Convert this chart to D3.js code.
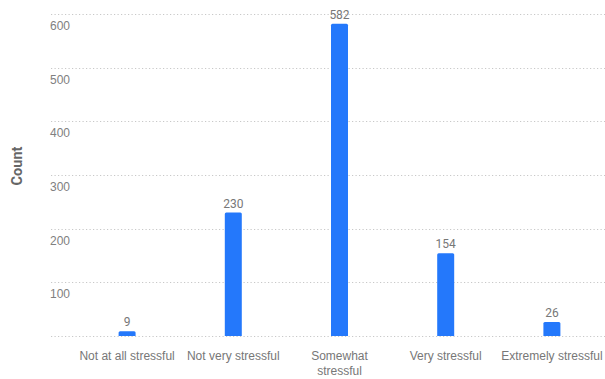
<!DOCTYPE html>
<html>
<head>
<meta charset="utf-8">
<script src="https://cdn.jsdelivr.net/npm/d3@7"></script>
<style>
  html, body { margin: 0; padding: 0; background: #fff; }
  svg { display: block; font-family: Roboto, "Open Sans", sans-serif; }
</style>
</head>
<body>
<svg id="chart" width="605" height="379"></svg>
<script>
// Responses to "How stressful ..." question
const categories = ["Not at all stressful", "Not very stressful", "Somewhat stressful", "Very stressful", "Extremely stressful"];
const counts = [9, 230, 582, 154, 26];
const yTicks = [100, 200, 300, 400, 500, 600];

const width = 605, height = 379;
const svg = d3.select("#chart");

const x = d3.scaleBand()
  .domain(categories)
  .range([74, 605])
  .paddingInner(0.84)
  .paddingOuter(0.42);

const y = d3.scaleLinear()
  .domain([0, 600])
  .range([336, 14]);

// dotted gridlines, including the baseline
const gridVals = [0].concat(yTicks);
svg.append("g")
  .selectAll("line")
  .data(gridVals)
  .join("line")
  .attr("x1", 51)
  .attr("x2", width)
  .attr("y1", d => Math.round(y(d)) + 0.5)
  .attr("y2", d => Math.round(y(d)) + 0.5)
  .attr("stroke", "#c8c8c8")
  .attr("stroke-width", 1.2)
  .attr("stroke-dasharray", "1.2,2.3");

// y tick labels sit just below their gridline
const yAxis = d3.axisLeft(y).tickValues(yTicks).tickSize(0).tickPadding(0);
const yg = svg.append("g").attr("transform", "translate(50,0)").call(yAxis);
yg.select(".domain").remove();
yg.selectAll("text")
  .attr("text-anchor", "start")
  .attr("x", 0)
  .attr("dy", "1.3em")
  .attr("fill", "#808080")
  .style("font-size", "12px");

// bars
svg.append("g")
  .selectAll("path")
  .data(counts)
  .join("path")
  .attr("fill", "#2478fb")
  .attr("d", (d, i) => {
    const x0 = x(categories[i]), w = x.bandwidth();
    const top = y(d), bottom = y(0), r = Math.min(1.5, (bottom - top) / 2);
    return `M${x0},${bottom}V${top + r}Q${x0},${top} ${x0 + r},${top}H${x0 + w - r}Q${x0 + w},${top} ${x0 + w},${top + r}V${bottom}Z`;
  });

// value labels
svg.append("g")
  .selectAll("text")
  .data(counts)
  .join("text")
  .attr("x", (d, i) => x(categories[i]) + x.bandwidth() / 2)
  .attr("y", d => y(d) - 5)
  .attr("text-anchor", "middle")
  .attr("fill", "#777")
  .style("font-size", "12px")
  .text(d => d);

// category labels (wrapped where needed)
const xAxis = d3.axisBottom(x).tickSize(0).tickPadding(0);
const xg = svg.append("g").attr("transform", "translate(0,336)").call(xAxis);
xg.select(".domain").remove();
xg.selectAll("text")
  .attr("fill", "#777")
  .style("font-size", "12px")
  .attr("y", 0)
  .attr("dy", null)
  .each(function (d) {
    const t = d3.select(this);
    t.text(null);
    const lines = d === "Somewhat stressful" ? ["Somewhat", "stressful"] : [d];
    lines.forEach((ln, k) => {
      t.append("tspan").attr("x", 0).attr("y", 24 + k * 15).text(ln);
    });
  });

// y axis title
svg.append("text")
  .attr("transform", "translate(22,166) rotate(-90)")
  .attr("text-anchor", "middle")
  .attr("fill", "#666")
  .style("font-size", "14.5px")
  .style("font-weight", "bold")
  .text("Count");
</script>
</body>
</html>
